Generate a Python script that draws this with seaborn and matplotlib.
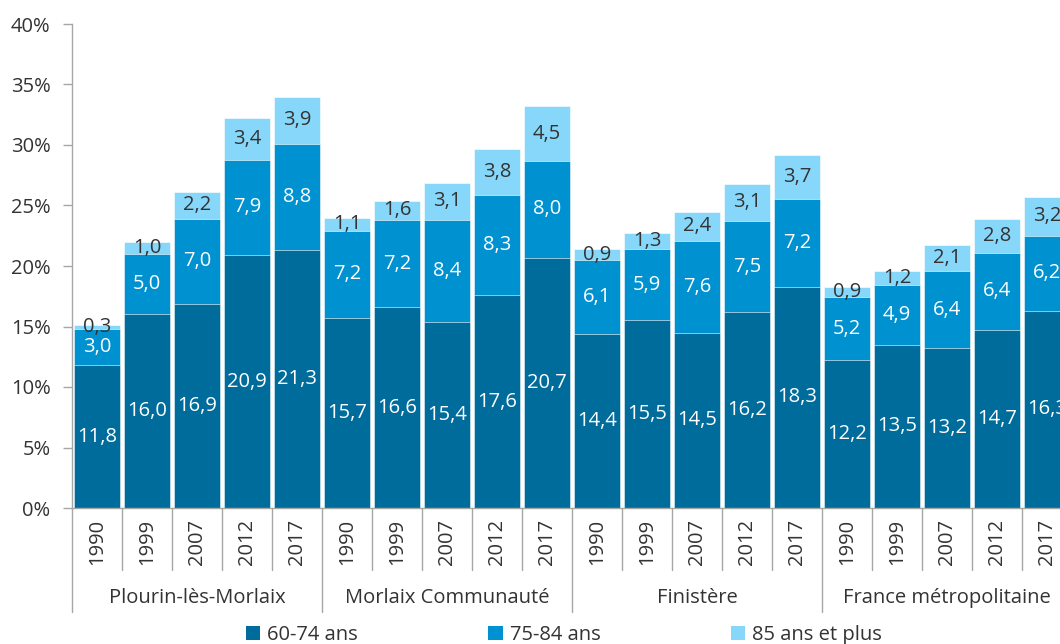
import matplotlib
matplotlib.use('Agg')
import matplotlib.pyplot as plt
import matplotlib.transforms as mtransforms
from matplotlib.patches import Patch
import seaborn as sns
import pandas as pd
import numpy as np

territoires = ['Plourin-lès-Morlaix', 'Morlaix Communauté', 'Finistère', 'France métropolitaine']
annees = ['1990', '1999', '2007', '2012', '2017']

# parts de la population (%) par tranche d'age, dans l'ordre des territoires
age_60_74 = [11.8, 16.0, 16.9, 20.9, 21.3,
             15.7, 16.6, 15.4, 17.6, 20.7,
             14.4, 15.5, 14.5, 16.2, 18.3,
             12.2, 13.5, 13.2, 14.7, 16.3]
age_75_84 = [3.0, 5.0, 7.0, 7.9, 8.8,
             7.2, 7.2, 8.4, 8.3, 8.0,
             6.1, 5.9, 7.6, 7.5, 7.2,
             5.2, 4.9, 6.4, 6.4, 6.2]
age_85_plus = [0.3, 1.0, 2.2, 3.4, 3.9,
               1.1, 1.6, 3.1, 3.8, 4.5,
               0.9, 1.3, 2.4, 3.1, 3.7,
               0.9, 1.2, 2.1, 2.8, 3.2]

series = ['60-74 ans', '75-84 ans', '85 ans et plus']
couleurs = ['#006c9b', '#0091d0', '#87d7fa']

sns.set_theme(style='white')
plt.rcParams['font.family'] = ['Open Sans', 'DejaVu Sans']
texte = '#333333'
fs = 14.5

df = pd.DataFrame({
    'cle': [f'{t}|{a}' for t in territoires for a in annees],
    'annee': [a for t in territoires for a in annees],
    'a': age_60_74,
    'b': age_75_84,
    'c': age_85_plus,
})
df['s1'] = df['a']
df['s2'] = df['a'] + df['b']
df['s3'] = df['a'] + df['b'] + df['c']

fig = plt.figure(figsize=(10.6, 6.44), dpi=100)
ax = fig.add_axes([72 / 1060, 136 / 644, 1000 / 1060, 484 / 644])

# barres empilees : on dessine les cumuls du plus grand au plus petit
for col, c in zip(['s3', 's2', 's1'], couleurs[::-1]):
    sns.barplot(data=df, x='cle', y=col, color=c, width=0.92, ax=ax,
                edgecolor='#ffffff', linewidth=0.4, saturation=1, errorbar=None)

n = len(df)
for i in range(n):
    a, b, c = df.loc[i, 'a'], df.loc[i, 'b'], df.loc[i, 'c']
    ax.text(i, a / 2, f'{a:.1f}'.replace('.', ','), ha='center', va='center',
            color='white', fontsize=fs)
    ax.text(i, a + b / 2, f'{b:.1f}'.replace('.', ','), ha='center', va='center',
            color='white', fontsize=fs)
    ax.text(i, a + b + c / 2, f'{c:.1f}'.replace('.', ','), ha='center', va='center',
            color=texte, fontsize=fs)

ax.set_xlim(-0.5, n - 0.5)
ax.set_ylim(0, 40)
ax.set_yticks(np.arange(0, 41, 5))
ax.set_yticklabels([f'{v}%' for v in range(0, 41, 5)], fontsize=fs, color=texte)
ax.tick_params(axis='y', length=6.5, width=1, color='#a6a6a6', pad=9, left=True)

ax.set_xticks(range(n))
ax.set_xticklabels(df['annee'], rotation=90, fontsize=fs, color=texte)
ax.tick_params(axis='x', length=0, pad=8)
ax.set_xlabel('')
ax.set_ylabel('')

for s in ['top', 'right']:
    ax.spines[s].set_visible(False)
for s in ['left', 'bottom']:
    ax.spines[s].set_color('#a6a6a6')
    ax.spines[s].set_linewidth(1)

trans = mtransforms.blended_transform_factory(ax.transData, ax.transAxes)
for i in range(n + 1):
    x = i - 0.5
    bas = -0.215 if i % 5 == 0 else -0.128
    ax.plot([x, x], [0, bas], color='#a6a6a6', lw=1, transform=trans, clip_on=False)

for k, t in enumerate(territoires):
    ax.text(k * 5 + 2, -0.186, t, transform=trans, ha='center', va='center',
            fontsize=fs, color=texte)

handles = [Patch(facecolor=c, edgecolor='none') for c in couleurs]
fig.legend(handles, series, loc='center', bbox_to_anchor=(0.532, 0.014), ncol=3,
           frameon=False, fontsize=fs, handlelength=0.7, handleheight=0.7,
           handletextpad=0.35, columnspacing=6.5, labelcolor=texte)

fig.savefig('out.png', dpi=100)
